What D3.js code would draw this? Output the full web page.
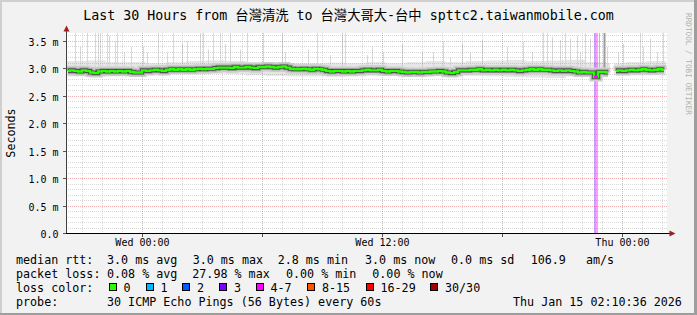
<!DOCTYPE html>
<html>
<head>
<meta charset="utf-8">
<script src="https://cdn.jsdelivr.net/npm/d3@7"></script>
<style>
  html, body { margin: 0; padding: 0; background: #f2f2f2; }
  svg { display: block; }
  text { font-family: "DejaVu Sans Mono", "Noto Sans CJK TC", monospace; fill: #000; }
</style>
</head>
<body>
<svg id="chart" width="697" height="315"></svg>
<script>
const title = "Last 30 Hours from 台灣清洗 to 台灣大哥大-台中 spttc2.taiwanmobile.com";
const startTime = new Date(2026, 0, 13, 20, 10, 36);
const endTime = new Date(2026, 0, 15, 2, 10, 36);
const stepMinutes = 12;

// median rtt (ms), one value per 12 minutes, null = no data
const median = [
  2.96, 2.97, 2.96, 2.95, 2.97, 2.96, 2.93, 2.92, 2.95, 2.96,
  2.95, 2.96, 2.95, 2.96, 2.95, 2.96, 2.94, 2.93, 2.93, 2.97,
  2.96, 2.97, 2.98, 2.97, 2.96, 2.98, 2.99, 2.98, 2.99, 2.98,
  2.99, 2.98, 2.99, 3.00, 2.99, 3.00, 3.00, 3.01, 3.02, 3.02,
  3.02, 3.01, 3.03, 3.02, 3.02, 3.03, 3.02, 3.01, 3.03, 3.03,
  3.04, 3.03, 3.02, 3.03, 3.04, 3.02, 3.00, 2.99, 2.99, 3.00,
  2.99, 2.98, 3.00, 2.99, 2.98, 2.96, 2.95, 2.96, 2.96, 2.95,
  2.96, 2.95, 2.96, 2.96, 2.97, 2.98, 2.97, 2.97, 2.98, 2.96,
  2.95, 2.96, 2.96, 2.95, 2.94, 2.93, 2.94, 2.94, 2.93, 2.94,
  2.94, 2.95, 2.95, 2.96, 2.95, 2.93, 2.92, 2.94, 2.97, 2.97,
  2.97, 2.98, 2.98, 2.99, 2.97, 2.98, 2.97, 2.98, 2.97, 2.98,
  2.97, 2.98, 2.97, 2.96, 2.97, 2.98, 2.99, 2.98, 2.99, 2.98,
  2.98, 2.97, 2.96, 2.97, 2.96, 2.97, 2.96, 2.95, 2.93, 2.94,
  2.93, 2.93, 2.85, 2.94, 2.94, 2.93, null, 2.96, 2.97, 2.96,
  2.97, 2.98, 2.97, 2.98, 2.99, 2.98, 2.97, 2.98, 2.99, 2.98
];

// smoke envelope per hour (ms)
const smokeHi = [3.14, 3.15, 3.12, 3.12, 3.10, 3.12, 3.14, 3.15, 3.14, 3.12,
                 3.12, 3.10, 3.10, 3.11, 3.10, 3.12, 3.10, 3.12, 3.14, 3.12,
                 3.14, 3.15, 3.16, 3.14, 3.15, 3.16, 3.12, 3.10, 3.12, 3.14];
const smokeLo = [2.86, 2.85, 2.86, 2.87, 2.88, 2.90, 2.90, 2.91, 2.90, 2.88,
                 2.87, 2.86, 2.86, 2.85, 2.86, 2.87, 2.87, 2.88, 2.88, 2.87,
                 2.87, 2.86, 2.85, 2.84, 2.83, 2.86, 2.87, 2.88, 2.88, 2.88];

// slow pings: [hours after start, max rtt ms, pings that slow]
const spikes = [
  [0.5, 3.7, 1], [0.7, 3.40, 1], [1.05, 3.7, 1], [1.45, 3.7, 1], [1.6, 3.7, 1],
  [1.7, 3.7, 1], [2.05, 3.7, 1], [2.15, 3.60, 1], [2.45, 3.50, 1], [2.55, 3.7, 1],
  [2.9, 3.30, 1], [3.25, 3.40, 1], [3.85, 3.40, 1], [4.05, 3.30, 1], [4.6, 3.7, 1],
  [5.05, 3.30, 1], [5.35, 3.7, 1], [5.8, 3.45, 1], [6.05, 3.50, 1], [6.7, 3.7, 1],
  [6.85, 3.7, 1], [7.1, 3.35, 1], [7.35, 3.7, 1], [7.7, 3.7, 1], [7.95, 3.45, 1],
  [8.2, 3.7, 1], [8.7, 3.35, 1], [9.05, 3.7, 1], [9.85, 3.7, 1], [10.8, 3.7, 1],
  [10.95, 3.30, 1], [12.1, 3.35, 1], [12.55, 3.7, 1], [13.2, 3.25, 1], [13.8, 3.7, 1],
  [13.95, 3.7, 1], [15.05, 3.25, 1], [15.3, 3.40, 1], [15.85, 3.30, 1], [16.8, 3.45, 1],
  [17.8, 3.30, 1], [18.35, 3.30, 1], [18.85, 3.50, 1], [19.2, 3.20, 1], [19.85, 3.45, 1],
  [20.2, 3.30, 1], [20.85, 3.52, 1], [22.05, 3.40, 1], [22.85, 3.49, 1], [23.3, 3.30, 1],
  [23.85, 3.7, 1], [24.05, 3.7, 1], [24.3, 3.58, 1], [24.7, 3.52, 1], [24.95, 3.7, 1],
  [25.2, 3.55, 1], [25.55, 3.60, 1], [25.7, 3.30, 1], [25.95, 3.7, 1], [26.2, 3.55, 1],
  [26.65, 3.7, 2], [26.9, 3.7, 5], [27.05, 3.40, 1], [27.6, 3.30, 1], [27.85, 3.45, 1],
  [28.7, 3.7, 1], [28.85, 3.40, 1], [29.2, 3.55, 1], [29.55, 3.30, 1], [29.85, 3.7, 1]
];

// packet loss events: [hours after start, pings lost of 30]
const lossBars = [[26.4, 3], [26.5, 5]];

const yTicks = [0, 0.5, 1.0, 1.5, 2.0, 2.5, 3.0, 3.5];
const yTickLabels = ["0.0", "0.5 m", "1.0 m", "1.5 m", "2.0 m", "2.5 m", "3.0 m", "3.5 m"];

const rttItems = ["3.0 ms avg", "3.0 ms max", "2.8 ms min", "3.0 ms now", "0.0 ms sd", "106.9", "am/s"];
const lossItems = ["0.08 % avg", "27.98 % max", "0.00 % min", "0.00 % now"];
const lossLabels = ["0", "1", "2", "3", "4-7", "8-15", "16-29", "30/30"];
const lossColors = ["#26ff00", "#00b8ff", "#0059ff", "#7e00ff", "#ff00ff", "#ff5500", "#ff0000", "#a10000"];
const lossLimits = [0, 1, 2, 3, 7, 15, 29, 30];
const probeText = "30 ICMP Echo Pings (56 Bytes) every 60s";
const stampText = "Thu Jan 15 02:10:36 2026";

const svg = d3.select("#chart");
const W = 697, H = 315;

const x = d3.scaleTime().domain([startTime, endTime]).range([66, 666]);
const y = d3.scaleLinear().domain([0, 3.65]).range([233.5, 33]);
const px = v => Math.floor(v) + 0.5;
const hrs = h => new Date(startTime.getTime() + h * 3600e3);
const sampleStart = i => new Date(startTime.getTime() + i * stepMinutes * 60e3);
const sampleMid = i => new Date(startTime.getTime() + (i + 0.5) * stepMinutes * 60e3);

// frame
svg.append("rect").attr("width", W).attr("height", H).attr("fill", "#f2f2f2");
svg.append("rect").attr("x", 0).attr("y", 0).attr("width", W).attr("height", 2).attr("fill", "#cfcfcf");
svg.append("rect").attr("x", 0).attr("y", 0).attr("width", 2).attr("height", H).attr("fill", "#cfcfcf");
svg.append("rect").attr("x", W - 3).attr("y", 0).attr("width", 3).attr("height", H).attr("fill", "#9e9e9e");
svg.append("rect").attr("x", 0).attr("y", H - 2).attr("width", W).attr("height", 2).attr("fill", "#9e9e9e");

// canvas
const x0 = x.range()[0], x1 = x.range()[1] + 1;
const yTop = y.range()[1], yBot = 233;
svg.append("rect").attr("x", x0).attr("y", yTop).attr("width", x1 - x0).attr("height", yBot - yTop).attr("fill", "#fff");

svg.append("defs").append("clipPath").attr("id", "plotClip")
  .append("rect").attr("x", x0).attr("y", yTop).attr("width", x1 - x0).attr("height", yBot - yTop);

// layers, bottom to top
const gSmoke = svg.append("g").attr("clip-path", "url(#plotClip)");
const gGrid = svg.append("g");
const gLoss = svg.append("g");
const gMedian = svg.append("g").attr("clip-path", "url(#plotClip)");

// smoke envelope
median.forEach((v, i) => {
  if (v == null) return;
  const h = Math.floor(i * stepMinutes / 60);
  const xa = x(sampleStart(i)), xb = x(sampleStart(i + 1));
  gSmoke.append("rect")
    .attr("x", xa).attr("width", xb - xa)
    .attr("y", y(smokeHi[h])).attr("height", y(smokeLo[h]) - y(smokeHi[h]))
    .attr("fill", "#e6e6e6");
});

// slow ping spikes
const spikeColor = n => n >= 3 ? "#9c9c9c" : n === 2 ? "#bdbdbd" : "#d8d8d8";
spikes.forEach(([h, v, n]) => {
  const idx = Math.floor(h * 60 / stepMinutes);
  const base = median[idx];
  if (base == null) return;
  const xp = px(x(hrs(h)));
  gSmoke.append("line")
    .attr("x1", xp).attr("x2", xp)
    .attr("y1", y(base)).attr("y2", y(v))
    .attr("stroke", spikeColor(n))
    .attr("stroke-width", n >= 3 ? 2 : 1);
});

// grid
const minorY = d3.range(1, 37).map(d => d / 10).filter(d => Math.round(d * 10) % 5 !== 0);
gGrid.selectAll(".gy").data(minorY).enter().append("line")
  .attr("x1", x0).attr("x2", x1)
  .attr("y1", d => px(y(d))).attr("y2", d => px(y(d)))
  .attr("stroke", "rgba(143,143,143,0.35)").attr("stroke-dasharray", "1,1");
const minorX = d3.timeHour.range(startTime, endTime).filter(d => d.getHours() % 6 !== 0);
gGrid.selectAll(".gx").data(minorX).enter().append("line")
  .attr("x1", d => px(x(d))).attr("x2", d => px(x(d)))
  .attr("y1", yTop).attr("y2", yBot)
  .attr("stroke", "rgba(143,143,143,0.35)").attr("stroke-dasharray", "1,1");
gGrid.selectAll(".my").data(yTicks.slice(1)).enter().append("line")
  .attr("x1", x0).attr("x2", x1)
  .attr("y1", d => px(y(d))).attr("y2", d => px(y(d)))
  .attr("stroke", "rgba(222,80,80,0.45)").attr("stroke-dasharray", "1,1");
const majorX = d3.timeHour.every(6).range(startTime, endTime);
gGrid.selectAll(".mx").data(majorX).enter().append("line")
  .attr("x1", d => px(x(d))).attr("x2", d => px(x(d)))
  .attr("y1", yTop).attr("y2", yBot)
  .attr("stroke", "rgba(222,80,80,0.45)").attr("stroke-dasharray", "1,1");

// loss bars
const lossIndex = n => lossLimits.findIndex(l => n <= l);
lossBars.forEach(([h, n]) => {
  const xa = x(hrs(h)), xb = x(hrs(h + 0.1));
  gLoss.append("rect")
    .attr("x", xa).attr("width", xb - xa)
    .attr("y", yTop).attr("height", yBot - yTop)
    .attr("fill", lossColors[lossIndex(n)]).attr("opacity", 0.38);
});

// median line with dark smoke core
const pts = median.map((v, i) => ({ t: sampleMid(i), v }));
const line = d3.line().defined(d => d.v != null).x(d => x(d.t)).y(d => y(d.v)).curve(d3.curveStep);
gMedian.append("path").datum(pts).attr("d", line).attr("fill", "none")
  .attr("stroke", "#cdcdcd").attr("stroke-width", 9);
gMedian.append("path").datum(pts).attr("d", line).attr("fill", "none")
  .attr("stroke", "#959595").attr("stroke-width", 5.5);
gMedian.append("path").datum(pts).attr("d", line).attr("fill", "none")
  .attr("stroke", "#3a3a3a").attr("stroke-width", 3.6);
gMedian.append("path").datum(pts).attr("d", line).attr("fill", "none")
  .attr("stroke", lossColors[0]).attr("stroke-width", 2.4);

// median coloured by loss where pings were lost
median.forEach((v, i) => {
  if (v == null) return;
  const ta = sampleStart(i).getTime(), tb = sampleStart(i + 1).getTime();
  const lost = d3.max(lossBars.filter(([h]) => {
    const t = hrs(h).getTime();
    return t >= ta && t < tb;
  }), d => d[1]) || 0;
  if (!lost) return;
  const xa = x(sampleStart(i)), xb = x(sampleStart(i + 1));
  gMedian.append("path")
    .attr("d", `M${xa},${y(v)}H${xb}`)
    .attr("fill", "none")
    .attr("stroke", lossColors[lossIndex(lost)])
    .attr("stroke-width", 2.4);
});

// axes
svg.append("line").attr("x1", x0 + 0.5).attr("x2", x0 + 0.5).attr("y1", 234).attr("y2", 30)
  .attr("stroke", "#404040");
svg.append("line").attr("x1", x0 - 3).attr("x2", 670).attr("y1", 233.5).attr("y2", 233.5)
  .attr("stroke", "#000");
svg.append("path").attr("d", `M${x0 + 0.5},25.5L${x0 + 3.5},31.5L${x0 - 2.5},31.5Z`).attr("fill", "#a02020");
svg.append("path").attr("d", "M675.5,233.5L669.5,230.5L669.5,236.5Z").attr("fill", "#a02020");

svg.selectAll(".ytick").data(yTicks).enter().append("line")
  .attr("x1", x0 - 3).attr("x2", x0)
  .attr("y1", d => px(y(d))).attr("y2", d => px(y(d)))
  .attr("stroke", "#555");
svg.selectAll(".xtick").data(majorX).enter().append("line")
  .attr("x1", d => px(x(d))).attr("x2", d => px(x(d)))
  .attr("y1", 234).attr("y2", 237)
  .attr("stroke", "#555");

svg.selectAll(".ylab").data(yTicks).enter().append("text")
  .attr("x", 58.5).attr("y", d => px(y(d)) + 0.5)
  .attr("text-anchor", "end").attr("dominant-baseline", "central")
  .attr("font-size", "10px")
  .text((d, i) => yTickLabels[i]);

const fmt = d3.timeFormat("%a %H:%M");
svg.selectAll(".xlab").data(d3.timeHour.every(12).range(startTime, endTime)).enter().append("text")
  .attr("x", d => x(d)).attr("y", 242)
  .attr("text-anchor", "middle").attr("dominant-baseline", "central")
  .attr("font-size", "10px")
  .text(d => fmt(d));

// title and labels
svg.append("text").attr("x", 348.5).attr("y", 15)
  .attr("text-anchor", "middle").attr("dominant-baseline", "central")
  .attr("font-size", "13.3px").text(title);

svg.append("text").attr("transform", "translate(11,133) rotate(-90)")
  .attr("text-anchor", "middle").attr("dominant-baseline", "central")
  .attr("font-size", "11.7px").text("Seconds");

svg.append("text").attr("transform", "translate(688,13) rotate(90)")
  .attr("text-anchor", "start").attr("dominant-baseline", "central")
  .attr("font-size", "7.7px").style("fill", "#b0b0b0")
  .text("RRDTOOL / TOBI OETIKER");

// legend
const leg = svg.append("g").attr("font-size", "11.7px");
const row = (yy, label) => leg.append("text").attr("x", 16).attr("y", yy)
  .attr("dominant-baseline", "central").text(label);

row(259.5, "median rtt:");
const rttX = [107, 192.7, 277.7, 365, 451, 530.7, 586];
rttItems.forEach((t, i) => leg.append("text").attr("x", rttX[i]).attr("y", 259.5)
  .attr("dominant-baseline", "central").text(t));

row(273.5, "packet loss:");
const lossX = [107, 192.3, 286, 372.3];
lossItems.forEach((t, i) => leg.append("text").attr("x", lossX[i]).attr("y", 273.5)
  .attr("dominant-baseline", "central").text(t));

row(287.5, "loss color:");
const boxX = [109, 146, 182.5, 219.5, 256, 307.5, 366, 430.5];
lossLabels.forEach((t, i) => {
  leg.append("rect").attr("x", Math.floor(boxX[i]) + 0.5).attr("y", 283.5)
    .attr("width", 7).attr("height", 7)
    .attr("fill", lossColors[i]).attr("stroke", "#000");
  leg.append("text").attr("x", boxX[i] + 14.5).attr("y", 287.5)
    .attr("dominant-baseline", "central").text(t);
});

row(301.5, "probe:");
leg.append("text").attr("x", 107).attr("y", 301.5).attr("dominant-baseline", "central").text(probeText);
leg.append("text").attr("x", 513).attr("y", 301.5).attr("dominant-baseline", "central").text(stampText);
</script>
</body>
</html>
